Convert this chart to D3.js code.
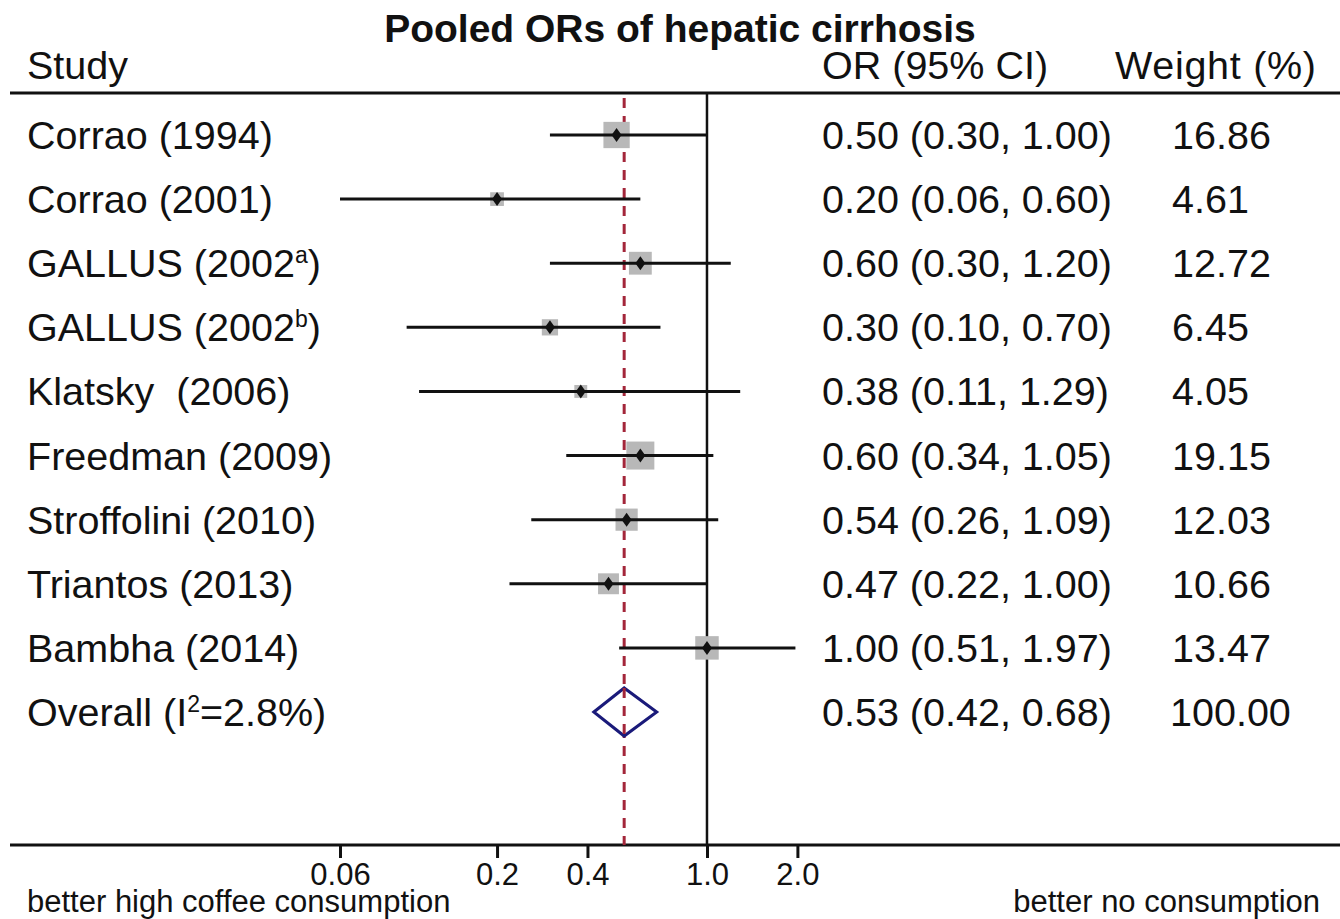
<!DOCTYPE html>
<html><head><meta charset="utf-8">
<script src="https://cdn.jsdelivr.net/npm/d3@7"></script>
<style>body{margin:0;background:#fff}text{font-family:"Liberation Sans",Arial,sans-serif;fill:#111;white-space:pre}</style>
</head><body><svg id="c" width="1340" height="919"></svg>
<script>
const studies = ["Corrao (1994)","Corrao (2001)","GALLUS (2002|a)","GALLUS (2002|b)","Klatsky  (2006)","Freedman (2009)","Stroffolini (2010)","Triantos (2013)","Bambha (2014)"];
const or = [0.50,0.20,0.60,0.30,0.38,0.60,0.54,0.47,1.00];
const lo = [0.30,0.06,0.30,0.10,0.11,0.34,0.26,0.22,0.51];
const hi = [1.00,0.60,1.20,0.70,1.29,1.05,1.09,1.00,1.97];
const weights = ["16.86","4.61","12.72","6.45","4.05","19.15","12.03","10.66","13.47"];
const pooled = {or:0.53, lo:0.42, hi:0.68, weight:"100.00", i2:"2.8%"};
const tickVals = [0.06,0.2,0.4,1.0,2.0];
const tickLabels = ["0.06","0.2","0.4","1.0","2.0"];

const svg = d3.select("#c");
const x = d3.scaleLog().domain([0.06,2.0]).range([340,797.4]);
const rowY = d3.scaleLinear().domain([0,9]).range([135,712]);
const fs = 39.5;

svg.append("text").attr("x",680).attr("y",42).attr("text-anchor","middle")
  .attr("font-size",39).attr("font-weight","bold").text("Pooled ORs of hepatic cirrhosis");
svg.append("text").attr("x",27).attr("y",79).attr("font-size",fs).text("Study");
svg.append("text").attr("x",822).attr("y",79).attr("font-size",fs).text("OR (95% CI)");
svg.append("text").attr("x",1115).attr("y",79).attr("font-size",fs).attr("textLength",201).text("Weight (%)");

svg.append("line").attr("x1",10).attr("x2",1340).attr("y1",93).attr("y2",93).attr("stroke","#111").attr("stroke-width",3);
svg.append("line").attr("x1",10).attr("x2",1340).attr("y1",845).attr("y2",845).attr("stroke","#111").attr("stroke-width",3);

// reference lines
svg.append("line").attr("x1",x(1)).attr("x2",x(1)).attr("y1",93).attr("y2",845).attr("stroke","#111").attr("stroke-width",2.5);
svg.append("line").attr("x1",x(pooled.or)).attr("x2",x(pooled.or)).attr("y1",98).attr("y2",845)
  .attr("stroke","#a3263a").attr("stroke-width",3).attr("stroke-dasharray","10,8");

// axis
const axis = d3.axisBottom(x).tickValues(tickVals).tickFormat((d,i)=>tickLabels[i]).tickSize(13).tickPadding(5);
const ag = svg.append("g").attr("transform","translate(0,845)").call(axis);
ag.select(".domain").remove();
ag.selectAll(".tick line").attr("stroke","#111").attr("stroke-width",3);
ag.selectAll(".tick text").attr("font-size",31).attr("fill","#111").attr("font-family","Liberation Sans, Arial, sans-serif");

svg.append("text").attr("x",27).attr("y",912).attr("font-size",31).text("better high coffee consumption");
svg.append("text").attr("x",1320).attr("y",912).attr("font-size",31).attr("text-anchor","end").text("better no consumption");

// rows
const sz = d3.scaleSqrt().domain([0,19.15]).range([0,28]);
studies.forEach((s,i)=>{
  const y = rowY(i);
  const t = svg.append("text").attr("x",27).attr("y",y+14).attr("font-size",fs);
  const parts = s.split("|");
  if(parts.length>1){
    t.append("tspan").text(parts[0]);
    t.append("tspan").attr("font-size",23).attr("dy",-14).text(parts[1].slice(0,1));
    t.append("tspan").attr("dy",14).text(")");
  } else t.text(s);
  const side = sz(+weights[i]);
  svg.append("rect").attr("x",x(or[i])-side/2).attr("y",y-side/2).attr("width",side).attr("height",side).attr("fill","#b8b8b8");
  svg.append("line").attr("x1",x(lo[i])).attr("x2",x(hi[i])).attr("y1",y).attr("y2",y).attr("stroke","#111").attr("stroke-width",3);
  const cx = x(or[i]);
  svg.append("path").attr("d",`M${cx},${y-7}L${cx+5},${y}L${cx},${y+7}L${cx-5},${y}Z`).attr("fill","#111");
  svg.append("text").attr("x",822).attr("y",y+14).attr("font-size",fs)
    .text(`${or[i].toFixed(2)} (${lo[i].toFixed(2)}, ${hi[i].toFixed(2)})`);
  svg.append("text").attr("x",1172).attr("y",y+14).attr("font-size",fs).text(weights[i]);
});

// overall
const oy = rowY(9);
const ot = svg.append("text").attr("x",27).attr("y",oy+14).attr("font-size",fs);
ot.append("tspan").text("Overall (I");
ot.append("tspan").attr("font-size",23).attr("dy",-14).text("2");
ot.append("tspan").attr("dy",14).text("=" + pooled.i2 + ")");
svg.append("path").attr("d",`M${x(pooled.lo)},${oy}L${x(pooled.or)},${oy-24}L${x(pooled.hi)},${oy}L${x(pooled.or)},${oy+24}Z`)
  .attr("fill","#fff").attr("stroke","#1a1a7a").attr("stroke-width",3);
svg.append("line").attr("x1",x(pooled.or)).attr("x2",x(pooled.or)).attr("y1",oy-24).attr("y2",oy+24)
  .attr("stroke","#a3263a").attr("stroke-width",3).attr("stroke-dasharray","10,8");
svg.append("text").attr("x",822).attr("y",oy+14).attr("font-size",fs)
  .text(`${pooled.or.toFixed(2)} (${pooled.lo.toFixed(2)}, ${pooled.hi.toFixed(2)})`);
svg.append("text").attr("x",1170).attr("y",oy+14).attr("font-size",fs).text(pooled.weight);
</script></body></html>
